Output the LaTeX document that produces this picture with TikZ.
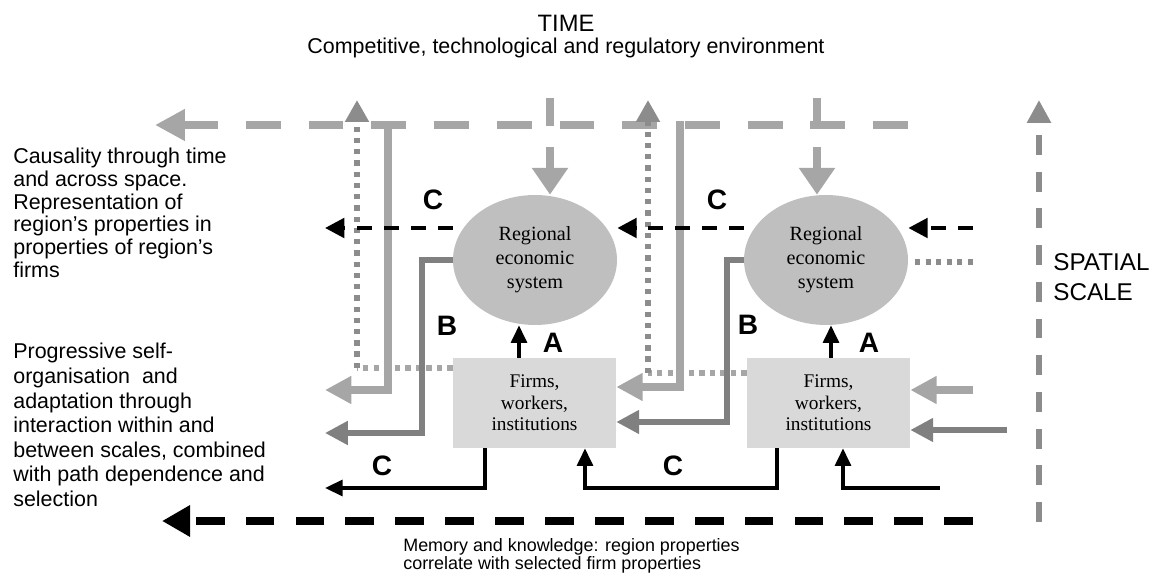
\documentclass[tikz,border=0pt]{standalone}
\usepackage{fontspec}
\setmainfont{Liberation Serif}
\setsansfont{Liberation Sans}
\usetikzlibrary{positioning, shapes.geometric, arrows.meta, calc}

\definecolor{lgrey}{HTML}{A6A6A6}
\definecolor{mgrey}{HTML}{8C8C8C}
\definecolor{dgrey}{HTML}{808080}
\definecolor{regfill}{HTML}{BFBFBF}
\definecolor{firmfill}{HTML}{D9D9D9}

\begin{document}
\begin{tikzpicture}[x=0.02cm, y=-0.02cm,
		region/.style={ellipse, fill=regfill, minimum width=3.28cm, minimum height=2.6cm, inner sep=0pt, align=center, font=\fontsize{11.5}{13.6}\selectfont},
		firm/.style={rectangle, fill=firmfill, minimum width=3.26cm, minimum height=1.8cm, inner sep=0pt, align=center, font=\fontsize{11}{12.2}\selectfont},
		letter/.style={font=\sffamily\bfseries\fontsize{16}{16}\selectfont, inner sep=0pt},
		side/.style={font=\sffamily\fontsize{12.2}{12.9}\selectfont, align=left, inner sep=0pt, anchor=north west},
		envline/.style={lgrey, line width=5.1pt, dash pattern=on 19.8pt off 15.9pt},
		envdown/.style={lgrey, line width=4pt, dash pattern=on 15.9pt off 11.9pt, -{Triangle[length=15.3pt, width=19.8pt]}},
		dotup/.style={mgrey, line width=3.2pt, dash pattern=on 3pt off 3.4pt, -{Triangle[length=12.5pt, width=13pt]}},
		dotflat/.style={lgrey, line width=3.2pt, dash pattern=on 3pt off 3pt},
		lightarr/.style={lgrey, line width=4pt, -{Triangle[length=15pt, width=15pt]}},
		darkarr/.style={dgrey, line width=3pt, -{Triangle[length=13pt, width=13pt]}},
		blkdash/.style={black, line width=2.3pt, dash pattern=on 8.5pt off 6.8pt, -{Triangle[length=11pt, width=11pt]}},
		blkarr/.style={black, line width=2pt, -{Triangle[length=10pt, width=9pt]}}]
		
		\useasboundingbox (0,0) rectangle (1157,573);
		
		% headings and side notes
		\node[font=\sffamily\fontsize{13.5}{14}\selectfont] (time) at (566,23) {TIME};
		\node[font=\sffamily\fontsize{12.2}{13}\selectfont] (env) at (566,48) {Competitive, technological and regulatory environment};
		\node[side] (causal) at (13,148) {Causality through time\\and across space.\\Representation of\\region’s properties in\\properties of region’s\\firms};
		\node[side, font=\sffamily\fontsize{12.2}{14}\selectfont] (selforg) at (13,343) {Progressive self-\\organisation\ \ and\\adaptation through\\interaction within and\\between scales, combined\\with path dependence and\\selection};
		\node[font=\sffamily\fontsize{13.8}{17}\selectfont, align=left, anchor=west, inner sep=0pt] (spatial) at (1053,277) {SPATIAL\\SCALE};
		\node[font=\sffamily\fontsize{10.2}{10.2}\selectfont, align=left, anchor=west, inner sep=0pt] (memory) at (403,556) {Memory and knowledge: region properties\\correlate with selected firm properties};
		
		% regions and firms
		\node[region] (reg1) at (535,260) {Regional\\economic\\system};
		\node[region] (reg2) at (826,260) {Regional\\economic\\system};
		\node[firm] (firm1) at (534.5,403) {Firms,\\workers,\\institutions};
		\node[firm] (firm2) at (828.5,403) {Firms,\\workers,\\institutions};
		
		\coordinate (envR) at (908,125);
		\coordinate (envL) at (155,125);
		\coordinate (in1) at (550,98);
		\coordinate (in2) at (817,98);
		\coordinate (dot1) at (357,368);
		\coordinate (dot2) at (648,373);
		\coordinate (dot3) at (973,262);
		\coordinate (dot3s) at (915,262);
		\coordinate (up1) at (388,121);
		\coordinate (up2) at (680,121);
		\coordinate (out1) at (325,390);
		\coordinate (back1) at (680,387);
		\coordinate (b1) at (422,433);
		\coordinate (out2) at (325,433);
		\coordinate (b2) at (727,422);
		\coordinate (inL) at (973,390);
		\coordinate (inD) at (1007,430);
		\coordinate (c1) at (325,228);
		\coordinate (c3) at (973,228);
		\coordinate (a1) at (519,0);
		\coordinate (a2) at (831,0);
		\coordinate (d1) at (485,488);
		\coordinate (out3) at (325,488);
		\coordinate (d2) at (777,488);
		\coordinate (u1) at (585,488);
		\coordinate (d3) at (940,488);
		\coordinate (u2) at (843,488);
		\coordinate (memR) at (973,521);
		\coordinate (memL) at (162,521);
		\coordinate (scaleB) at (1039,522);
		\coordinate (scaleT) at (1039,100);
		
		% environment through time
		\draw[envline, -{Triangle[length=17pt, width=17pt]}] (envR) -- (envL);
		\draw[envdown] (in1) -- (in1 |- reg1.north);
		\draw[envdown] (in2) -- (in2 |- reg2.north);
		
		% dotted feedback to the environment
		\draw[dotflat] (firm1.west |- dot1) -- (dot1);
		\draw[dotup] (dot1) -- (dot1 |- scaleT);
		\draw[dotflat] (firm2.west |- dot2) -- (dot2);
		\draw[dotup] (dot2) -- (dot2 |- scaleT);
		\draw[dotflat, mgrey] (dot3s) -- (dot3);
		
		% environment down to the firms
		\draw[lightarr] (up1) |- (out1);
		\draw[lightarr] (up2) -- (back1) -- (firm1.east |- back1);
		\draw[lightarr] (inL) -- (firm2.east |- inL);
		
		% B links
		\draw[darkarr] (reg1.west) -| (b1) -- (out2);
		\draw[darkarr] (reg2.west) -| (b2) -- (firm1.east |- b2);
		\draw[darkarr] (inD) -- (firm2.east |- inD);
		
		% C links between regions
		\draw[blkdash] (reg1.west |- c1) -- (c1);
		\draw[blkdash] (reg2.west |- c1) -- (reg1.east |- c1);
		\draw[blkdash] (c3) -- (reg2.east |- c1);
		
		% A links
		\draw[blkarr] (firm1.north -| a1) -- (reg1.south -| a1);
		\draw[blkarr] (firm2.north -| a2) -- (reg2.south -| a2);
		
		% C links between firms
		\draw[blkarr] (firm1.south -| d1) |- (out3);
		\draw[blkarr] (firm2.south -| d2) |- (u1) -- (firm1.south -| u1);
		\draw[blkarr] (d3) -- (u2) -- (firm2.south -| u2);
		
		% memory and spatial scale
		\draw[black, line width=4.5pt, dash pattern=on 16.4pt off 12pt, -{Triangle[length=16pt, width=17pt]}] (memR) -- (memL);
		\draw[mgrey, line width=3.4pt, dash pattern=on 11.3pt off 9.6pt, -{Triangle[length=13pt, width=13pt]}] (scaleB) -- (scaleT);
		
		\node[letter] (lc1) at (433,200) {C};
		\node[letter] (lc2) at (717,200) {C};
		\node[letter] (lb1) at (447,326) {B};
		\node[letter] (lb2) at (748,325) {B};
		\node[letter] (la1) at (553,343) {A};
		\node[letter] (la2) at (869,343) {A};
		\node[letter] (lc3) at (382,466) {C};
		\node[letter] (lc4) at (673,466) {C};
	\end{tikzpicture}
\end{document}
